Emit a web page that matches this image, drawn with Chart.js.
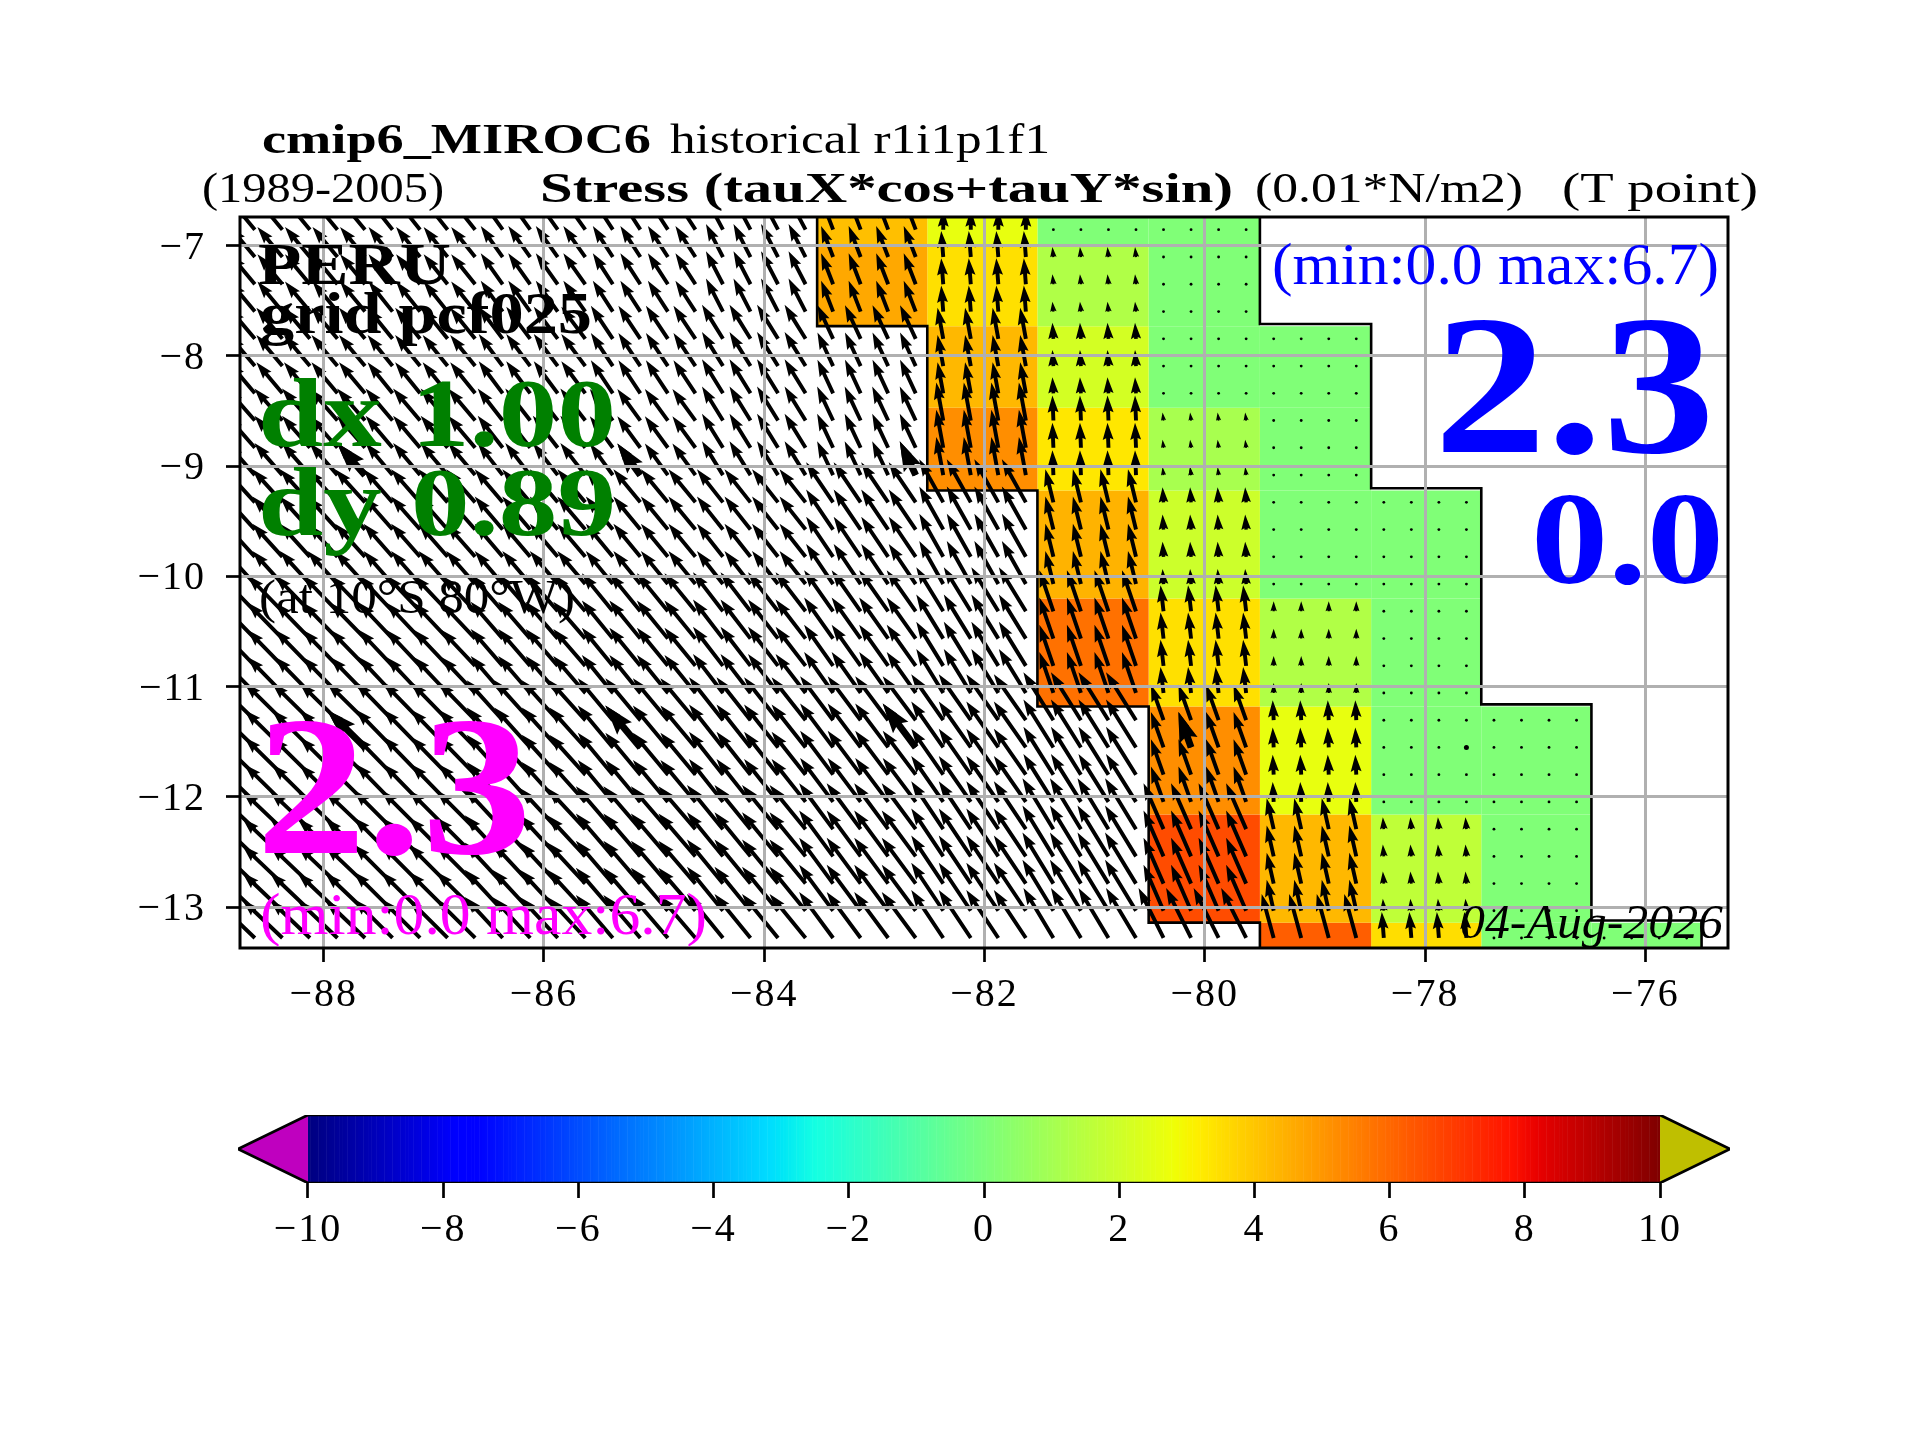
<!DOCTYPE html>
<html>
<head>
<meta charset="utf-8">
<title>cmip6_MIROC6 stress</title>
<script src="https://cdn.jsdelivr.net/npm/chart.js@4"></script>
<style>
  html, body { margin: 0; padding: 0; background: #fff; }
  canvas { position: absolute; left: 0; top: 0; }
</style>
</head>
<body>
<canvas id="mapChart" width="1920" height="1440"></canvas>
<canvas id="barChart" width="1920" height="1440"></canvas>
<script>
const xTicks = [-88, -86, -84, -82, -80, -78, -76];
const yTicks = [-13, -12, -11, -10, -9, -8, -7];
const barTicks = [-10, -8, -6, -4, -2, 0, 2, 4, 6, 8, 10];

// model cells: one column per degree, centred on these longitudes
const cellLons = [-89, -88, -87, -86, -85, -84, -83, -82, -81, -80, -79, -78, -77, -76];
const lonEdges = [-89.5, -88.5, -87.5, -86.5, -85.5, -84.5, -83.52, -82.52, -81.52, -80.51, -79.5, -78.49, -77.49, -76.49, -75.49];
const latEdges = [-6.74, -7.0, -7.73, -8.47, -9.22, -10.2, -11.18, -12.16, -13.14, -13.37];

// colour values of the coastal strip, north to south (null = not coloured)
const cellValues = [
  [null, null, null, null, null, null, 4.15, 2.64, 0.1, 0.1, null, null, null, null],
  [null, null, null, null, null, null, 4.64, 3.46, 1.28, 0.1, null, null, null, null],
  [null, null, null, null, null, null, null, 4.3, 2.14, 0.1, 0.1, null, null, null],
  [null, null, null, null, null, null, null, 5.2, 3.3, 1.08, 0.1, null, null, null],
  [null, null, null, null, null, null, null, null, 4.4, 1.96, 0.1, 0.1, null, null],
  [null, null, null, null, null, null, null, null, 5.8, 3.46, 1.3, 0.1, null, null],
  [null, null, null, null, null, null, null, null, null, 5.2, 2.64, 0.1, 0.1, null],
  [null, null, null, null, null, null, null, null, null, 6.6, 4.3, 1.65, 0.1, null],
  [null, null, null, null, null, null, null, null, null, null, 6.2, 3.5, 0.1, 0.1]
];

// stress vector per cell, 0.01 N/m2
const tauX = [
  [-3.33, -3.33, -3.2, -2.93, -2.67, -2.27, -1.47, 0, 0, 0, null, null, null, null],
  [-3.33, -3.33, -3.2, -2.93, -2.67, -2.27, -1.6, -0.27, -0.13, 0, null, null, null, null],
  [-3.47, -3.47, -3.33, -3.2, -2.93, -2.8, -2.09, -0.76, -0.13, 0, 0, null, null, null],
  [-3.73, -3.73, -3.6, -3.33, -3.07, -2.8, -2.13, -0.93, -0.13, -0.13, 0, null, null, null],
  [-4, -4, -3.87, -3.73, -3.6, -3.47, -3.6, -3.2, -1.07, -0.13, 0, 0, null, null],
  [-4.67, -4.67, -4.53, -4.27, -4.13, -4, -3.87, -3.6, -1.87, -0.4, 0, 0, null, null],
  [-5.07, -5.07, -4.93, -4.8, -4.67, -4.53, -4.4, -4.27, -4, -1.68, -0.13, 0, 0, null],
  [-5.33, -5.33, -5.2, -5.07, -4.93, -4.8, -4.53, -4.27, -4.13, -2.67, -0.93, -0.13, 0, null],
  [-5.33, -5.33, -5.2, -5.07, -4.93, -4.8, -4.53, -4.27, -4, -3.33, -1.6, -0.27, 0, 0]
];
const tauY = [
  [4, 4, 4, 4.13, 4.13, 4.27, 3.87, 2.67, 0.1, 0.1, null, null, null, null],
  [4, 4, 4, 4.13, 4.13, 4.4, 4.13, 3.47, 1.33, 0.1, null, null, null, null],
  [4.13, 4.13, 4.13, 4.27, 4.4, 4.53, 4.49, 4.13, 2.13, 0.1, 0.1, null, null, null],
  [4.27, 4.27, 4.27, 4.27, 4.2, 4.53, 4.53, 5.07, 3.33, 1.07, 0.1, null, null, null],
  [4.4, 4.4, 4.4, 4.4, 4.4, 4.4, 5.33, 5.73, 4.4, 2, 0.1, 0.1, null, null],
  [4.8, 4.8, 4.8, 4.93, 5.07, 5.2, 5.47, 5.87, 5.47, 3.47, 1.33, 0.1, null, null],
  [4.93, 5, 5.07, 5.33, 5.6, 5.73, 5.87, 6.13, 6.4, 4.73, 2.67, 0.1, 0.1, null],
  [5.07, 5.07, 5.2, 5.47, 5.73, 5.87, 6.13, 6.4, 6.8, 6.13, 4.13, 1.6, 0.1, null],
  [5.07, 5.07, 5.2, 5.47, 5.73, 5.87, 6.13, 6.4, 6.67, 6.67, 5.87, 3.47, 0.1, 0.1]
];

// where the arrows sit
const arrowLons = [-88.625, -88.375, -88.125, -87.875, -87.625, -87.375, -87.125, -86.875, -86.625, -86.375,
  -86.125, -85.875, -85.625, -85.375, -85.125, -84.875, -84.625, -84.375, -84.125, -83.875,
  -83.625, -83.375, -83.125, -82.875, -82.625, -82.375, -82.125, -81.875, -81.625, -81.375,
  -81.125, -80.875, -80.625, -80.375, -80.125, -79.875, -79.625, -79.375, -79.125, -78.875,
  -78.625, -78.375, -78.125, -77.875, -77.625, -77.375, -77.125, -76.875, -76.625, -76.375,
  -76.125, -75.875, -75.625];
const arrowLats = [-6.855, -7.103, -7.35, -7.598, -7.845, -8.092, -8.339, -8.586, -8.833, -9.081,
  -9.328, -9.575, -9.822, -10.069, -10.316, -10.564, -10.811, -11.057, -11.304, -11.551,
  -11.798, -12.045, -12.292, -12.539, -12.786, -13.032, -13.279];
const boldLons = [-87.625, -85.125, -82.625, -80.125, -77.625];
const boldLats = [-9.081, -11.551];

// black outline either side of the strip
const westLine = [[-83.52, -6.74], [-83.52, -7.73], [-82.52, -7.73], [-82.52, -9.22], [-81.52, -9.22], [-81.52, -11.18],
  [-80.51, -11.18], [-80.51, -13.14], [-79.5, -13.14], [-79.5, -13.37]];
const eastLine = [[-79.5, -6.74], [-79.5, -7.71], [-78.49, -7.71], [-78.49, -9.2], [-77.49, -9.2], [-77.49, -11.16],
  [-76.49, -11.16], [-76.49, -13.12], [-75.49, -13.12], [-75.49, -13.37]];

const FONT = '"Liberation Serif"';
const PX_PER_UNIT = 7.5;

// matplotlib jet
const jetR = [[0, 0], [0.35, 0], [0.66, 1], [0.89, 1], [1, 0.5]];
const jetG = [[0, 0], [0.125, 0], [0.375, 1], [0.64, 1], [0.91, 0], [1, 0]];
const jetB = [[0, 0.5], [0.11, 1], [0.34, 1], [0.65, 0], [1, 0]];

function channel(stops, t) {
  for (let i = 1; i < stops.length; i++) {
    if (t <= stops[i][0]) {
      const f = (t - stops[i - 1][0]) / (stops[i][0] - stops[i - 1][0]);
      return Math.round(255 * (stops[i - 1][1] + f * (stops[i][1] - stops[i - 1][1])));
    }
  }
  return Math.round(255 * stops[stops.length - 1][1]);
}

function jetColor(v) {
  const t = (v + 10) / 20;
  return 'rgb(' + channel(jetR, t) + ',' + channel(jetG, t) + ',' + channel(jetB, t) + ')';
}

function minusTick(v) {
  return String(v).replace('-', '\u2212');
}

function cellRow(lat) {
  for (let r = 0; r < latEdges.length - 1; r++) {
    if (lat <= latEdges[r] && lat > latEdges[r + 1]) return r;
  }
  return -1;
}

function arrowPoint(lon, lat) {
  const r = cellRow(lat);
  const c = cellLons.indexOf(Math.round(lon));
  if (r < 0 || c < 0 || tauX[r][c] === null) return null;
  return { x: lon, y: lat, u: tauX[r][c], v: tauY[r][c] };
}

function arrowData(lons, lats) {
  const pts = [];
  lats.forEach(lat => lons.forEach(lon => {
    const p = arrowPoint(lon, lat);
    if (p) pts.push(p);
  }));
  return pts;
}

function cellDatasets() {
  const sets = [];
  cellValues.forEach((row, r) => row.forEach((val, c) => {
    if (val === null) return;
    const w = lonEdges[c], e = lonEdges[c + 1], n = latEdges[r], s = latEdges[r + 1];
    sets.push({
      data: [{ x: w, y: n }, { x: e, y: n }, { x: e, y: s }, { x: w, y: s }, { x: w, y: n }],
      showLine: true, fill: 'shape', backgroundColor: jetColor(val),
      borderWidth: 0, pointRadius: 0, order: 5
    });
  }));
  return sets;
}

function lineDataset(points) {
  return {
    data: points.map(p => ({ x: p[0], y: p[1] })),
    showLine: true, fill: false, borderColor: '#000', borderWidth: 2.6, pointRadius: 0, order: 1
  };
}

function drawArrow(ctx, x0, y0, dx, dy, w) {
  const len = Math.hypot(dx, dy);
  if (len < 3) {
    ctx.beginPath();
    ctx.arc(x0, y0, w / 2.4, 0, Math.PI * 2);
    ctx.fill();
    return;
  }
  // quiver shape: short arrows shrink as a whole
  const k = len < 5 * w ? len / (5 * w) : 1;
  const sw = 1.15 * w * k, hl = 5 * w * k, ha = 4.5 * w * k, hw = 3.2 * w * k;
  ctx.save();
  ctx.translate(x0, y0);
  ctx.rotate(Math.atan2(dy, dx));
  ctx.beginPath();
  ctx.moveTo(0, -sw / 2);
  ctx.lineTo(len - ha, -sw / 2);
  ctx.lineTo(len - hl, -hw / 2);
  ctx.lineTo(len, 0);
  ctx.lineTo(len - hl, hw / 2);
  ctx.lineTo(len - ha, sw / 2);
  ctx.lineTo(0, sw / 2);
  ctx.closePath();
  ctx.fill();
  ctx.restore();
}

const quiverPlugin = {
  id: 'quiver',
  afterDatasetsDraw(chart) {
    const ctx = chart.ctx, a = chart.chartArea;
    ctx.save();
    ctx.beginPath();
    ctx.rect(a.left, a.top, a.right - a.left, a.bottom - a.top);
    ctx.clip();
    ctx.fillStyle = '#000';
    chart.data.datasets.forEach((ds, i) => {
      if (!ds.quiverWidth) return;
      chart.getDatasetMeta(i).data.forEach((el, j) => {
        const p = ds.data[j];
        drawArrow(ctx, el.x, el.y, p.u * PX_PER_UNIT, -p.v * PX_PER_UNIT, ds.quiverWidth);
      });
    });
    ctx.restore();
  }
};

// label, left, baseline, width, font size, style, colour
const labels = [
  ['cmip6_MIROC6', 262, 153, 389, 43, 'bold', '#000'],
  ['historical r1i1p1f1', 670, 153, 380, 43, 'normal', '#000'],
  ['(1989-2005)', 202, 202, 242, 43, 'normal', '#000'],
  ['Stress (tauX*cos+tauY*sin)', 540, 202, 693, 43, 'bold', '#000'],
  ['(0.01*N/m2)', 1255, 202, 268, 43, 'normal', '#000'],
  ['(T point)', 1562, 202, 196, 43, 'normal', '#000'],
  ['PERU', 258, 284, 193, 60, 'bold', '#000'],
  ['grid pcf025', 260, 333, 332, 60, 'bold', '#000'],
  ['dx 1.00', 258, 446, 358, 97, 'bold', '#008000'],
  ['dy 0.89', 258, 535, 358, 97, 'bold', '#008000'],
  ['(at 10\u00b0S 80\u00b0W)', 259, 613, 316, 48, 'normal', '#000'],
  ['2.3', 256, 853, 276, 200, 'bold', '#ff00ff'],
  ['(min:0.0 max:6.7)', 260, 934, 447, 60, 'normal', '#ff00ff'],
  ['(min:0.0 max:6.7)', 1272, 284, 447, 60, 'normal', '#0000ff'],
  ['2.3', 1434, 452, 281, 200, 'bold', '#0000ff'],
  ['0.0', 1531, 583, 193, 131, 'bold', '#0000ff'],
  ['04-Aug-2026', 1460, 938, 263, 48, 'italic', '#000']
];

const framePlugin = {
  id: 'frameAndText',
  afterLayout(chart) {
    // y labels sit a little lower than the middle of the tick
    chart.scales.y.getLabelItems().forEach(item => { item.options.translation[1] += 2.5; });
  },
  beforeDraw(chart) {
    chart.ctx.letterSpacing = '2px';
  },
  afterDraw(chart) {
    const ctx = chart.ctx, a = chart.chartArea;
    ctx.save();
    ctx.letterSpacing = '0px';
    ctx.strokeStyle = '#000';
    ctx.lineWidth = 3;
    ctx.strokeRect(a.left, a.top, a.right - a.left, a.bottom - a.top);
    ctx.textBaseline = 'alphabetic';
    labels.forEach(l => {
      ctx.save();
      ctx.font = l[5] + ' ' + l[4] + 'px ' + FONT;
      ctx.fillStyle = l[6];
      ctx.translate(l[1], l[2]);
      ctx.scale(l[3] / ctx.measureText(l[0]).width, 1);
      ctx.fillText(l[0], 0, 0);
      ctx.restore();
    });
    ctx.restore();
  }
};

const spacedTicks = {
  id: 'spacedTicks',
  beforeDraw(chart) {
    chart.ctx.letterSpacing = '2px';
  }
};

Chart.defaults.font.family = FONT;

new Chart(document.getElementById('mapChart'), {
  type: 'scatter',
  data: {
    datasets: [
      lineDataset(westLine),
      lineDataset(eastLine),
      { data: arrowData(arrowLons, arrowLats), quiverWidth: 3.4, pointRadius: 0, order: 0 },
      { data: arrowData(boldLons, boldLats), quiverWidth: 6, pointRadius: 0, order: 0 }
    ].concat(cellDatasets())
  },
  options: {
    responsive: false,
    animation: false,
    devicePixelRatio: 1,
    layout: { padding: { left: 0, top: 217, right: 192, bottom: 0 } },
    plugins: { legend: { display: false }, tooltip: { enabled: false } },
    scales: {
      x: {
        type: 'linear', min: -88.76, max: -75.25,
        afterBuildTicks: s => { s.ticks = xTicks.map(v => ({ value: v })); },
        afterFit: s => { s.height = 492; },
        grid: { color: '#b0b0b0', lineWidth: 3, z: 1, tickColor: '#000', tickWidth: 2.7, tickLength: 14 },
        border: { display: false },
        ticks: { callback: minusTick, color: '#000', font: { size: 40 }, padding: 9, maxRotation: 0 }
      },
      y: {
        type: 'linear', min: -13.37, max: -6.74,
        afterBuildTicks: s => { s.ticks = yTicks.map(v => ({ value: v })); },
        afterFit: s => { s.width = 240; },
        grid: { color: '#b0b0b0', lineWidth: 3, z: 1, tickColor: '#000', tickWidth: 2.7, tickLength: 14 },
        border: { display: false },
        ticks: { callback: minusTick, color: '#000', font: { size: 40 }, padding: 20 }
      }
    }
  },
  plugins: [quiverPlugin, framePlugin]
});

// colour bar, second chart under the map
const barLevels = [];
for (let i = 0; i < 512; i++) barLevels.push(-10 + (i + 0.5) * 20 / 512);

new Chart(document.getElementById('barChart'), {
  type: 'bar',
  data: {
    datasets: [
      {
        type: 'scatter', showLine: true, fill: false, borderColor: '#000', borderWidth: 2.7, pointRadius: 0, order: 0,
        data: [{ x: -10, y: 0 }, { x: -11.035, y: 0.5 }, { x: -10, y: 1 }, { x: 10, y: 1 }, { x: 11.035, y: 0.5 }, { x: 10, y: 0 }, { x: -10, y: 0 }]
      },
      {
        type: 'scatter', showLine: true, fill: 'shape', backgroundColor: '#bf00bf', borderWidth: 0, pointRadius: 0, order: 1,
        data: [{ x: -10, y: 0 }, { x: -11.035, y: 0.5 }, { x: -10, y: 1 }, { x: -10, y: 0 }]
      },
      {
        type: 'scatter', showLine: true, fill: 'shape', backgroundColor: '#bfbf00', borderWidth: 0, pointRadius: 0, order: 1,
        data: [{ x: 10, y: 0 }, { x: 11.035, y: 0.5 }, { x: 10, y: 1 }, { x: 10, y: 0 }]
      },
      {
        type: 'bar', order: 2, barPercentage: 1.2, categoryPercentage: 1,
        data: barLevels.map(v => ({ x: v, y: 1 })),
        backgroundColor: barLevels.map(jetColor)
      }
    ]
  },
  options: {
    responsive: false,
    animation: false,
    devicePixelRatio: 1,
    layout: { padding: { left: 238, top: 1115, right: 190, bottom: 0 } },
    plugins: { legend: { display: false }, tooltip: { enabled: false } },
    scales: {
      x: {
        type: 'linear', min: -11.035, max: 11.035, offset: false,
        afterBuildTicks: s => { s.ticks = barTicks.map(v => ({ value: v })); },
        afterFit: s => { s.height = 257; },
        grid: { offset: false, drawOnChartArea: false, tickColor: '#000', tickWidth: 2.7, tickLength: 15 },
        border: { display: false },
        ticks: { callback: minusTick, color: '#000', font: { size: 40 }, padding: 8.5, maxRotation: 0 }
      },
      y: { type: 'linear', min: 0, max: 1, display: false }
    }
  },
  plugins: [spacedTicks]
});
</script>
</body>
</html>
